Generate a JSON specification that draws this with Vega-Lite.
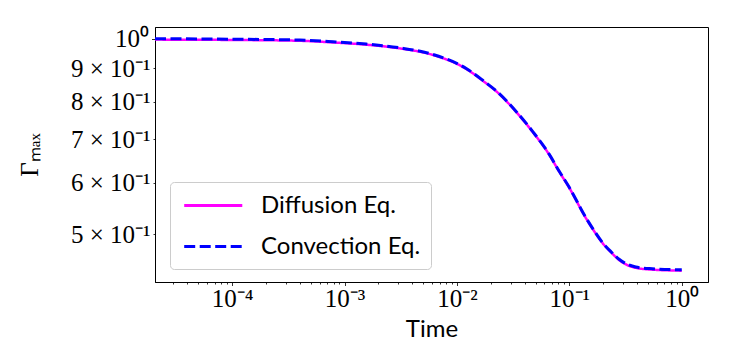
{
  "$schema": "https://vega.github.io/schema/vega-lite/v6.json",
  "width": 553,
  "height": 255,
  "autosize": {"type": "none"},
  "padding": {"left": 155, "top": 27, "right": 35, "bottom": 68},
  "background": "white",
  "config": {
    "view": {"stroke": "black", "strokeWidth": 1},
    "axis": {
      "domainColor": "black",
      "tickColor": "black",
      "labelColor": "black",
      "titleColor": "black",
      "grid": false
    },
    "legend": {
      "title": null,
      "orient": "none",
      "legendX": 15,
      "legendY": 155,
      "symbolType": "M-0.8,0H4.2",
      "symbolSize": 540,
      "symbolStrokeWidth": 3,
      "labelFont": "Lato",
      "labelFontSize": 24,
      "labelOffset": 54,
      "labelLimit": 300,
      "fillColor": "rgba(255,255,255,0.8)",
      "strokeColor": "#cccccc",
      "cornerRadius": 4,
      "padding": 10,
      "rowPadding": 15
    }
  },
  "data": {
    "values": [
      {"t": 2.06e-5, "v": 1.0, "series": "Convection Eq."},
      {"t": 9.55e-5, "v": 0.9986, "series": "Convection Eq."},
      {"t": 4.0e-4, "v": 0.9954, "series": "Convection Eq."},
      {"t": 7.89e-4, "v": 0.9894, "series": "Convection Eq."},
      {"t": 1.56e-3, "v": 0.9813, "series": "Convection Eq."},
      {"t": 3.09e-3, "v": 0.9684, "series": "Convection Eq."},
      {"t": 6.10e-3, "v": 0.946, "series": "Convection Eq."},
      {"t": 1.21e-2, "v": 0.9, "series": "Convection Eq."},
      {"t": 1.695e-2, "v": 0.8632, "series": "Convection Eq."},
      {"t": 2.38e-2, "v": 0.8233, "series": "Convection Eq."},
      {"t": 3.36e-2, "v": 0.7728, "series": "Convection Eq."},
      {"t": 4.71e-2, "v": 0.7199, "series": "Convection Eq."},
      {"t": 6.63e-2, "v": 0.6636, "series": "Convection Eq."},
      {"t": 8.13e-2, "v": 0.6249, "series": "Convection Eq."},
      {"t": 0.0998, "v": 0.5903, "series": "Convection Eq."},
      {"t": 0.14, "v": 0.5305, "series": "Convection Eq."},
      {"t": 0.1664, "v": 0.5059, "series": "Convection Eq."},
      {"t": 0.197, "v": 0.4853, "series": "Convection Eq."},
      {"t": 0.234, "v": 0.47, "series": "Convection Eq."},
      {"t": 0.277, "v": 0.4573, "series": "Convection Eq."},
      {"t": 0.39, "v": 0.4449, "series": "Convection Eq."},
      {"t": 0.548, "v": 0.4422, "series": "Convection Eq."},
      {"t": 1.0, "v": 0.4406, "series": "Convection Eq."},
      {"t": 2.06e-5, "v": 0.997, "series": "Diffusion Eq."},
      {"t": 9.55e-5, "v": 0.9958, "series": "Diffusion Eq."},
      {"t": 4.0e-4, "v": 0.9928, "series": "Diffusion Eq."},
      {"t": 7.89e-4, "v": 0.987, "series": "Diffusion Eq."},
      {"t": 1.56e-3, "v": 0.9792, "series": "Diffusion Eq."},
      {"t": 3.09e-3, "v": 0.9665, "series": "Diffusion Eq."},
      {"t": 6.10e-3, "v": 0.9443, "series": "Diffusion Eq."},
      {"t": 1.21e-2, "v": 0.8985, "series": "Diffusion Eq."},
      {"t": 1.695e-2, "v": 0.8618, "series": "Diffusion Eq."},
      {"t": 2.38e-2, "v": 0.822, "series": "Diffusion Eq."},
      {"t": 3.36e-2, "v": 0.7716, "series": "Diffusion Eq."},
      {"t": 4.71e-2, "v": 0.7188, "series": "Diffusion Eq."},
      {"t": 6.63e-2, "v": 0.6626, "series": "Diffusion Eq."},
      {"t": 8.13e-2, "v": 0.624, "series": "Diffusion Eq."},
      {"t": 0.0998, "v": 0.5894, "series": "Diffusion Eq."},
      {"t": 0.14, "v": 0.5297, "series": "Diffusion Eq."},
      {"t": 0.1664, "v": 0.5051, "series": "Diffusion Eq."},
      {"t": 0.197, "v": 0.4845, "series": "Diffusion Eq."},
      {"t": 0.234, "v": 0.4692, "series": "Diffusion Eq."},
      {"t": 0.277, "v": 0.4562, "series": "Diffusion Eq."},
      {"t": 0.39, "v": 0.4436, "series": "Diffusion Eq."},
      {"t": 0.548, "v": 0.4408, "series": "Diffusion Eq."},
      {"t": 1.0, "v": 0.4392, "series": "Diffusion Eq."}
    ]
  },
  "encoding": {
    "x": {
      "field": "t",
      "type": "quantitative",
      "scale": {"type": "log", "domain": [2.06e-5, 1.712], "nice": false},
      "axis": {
        "title": "Time",
        "titleFont": "Lato",
        "titleFontSize": 24,
        "titleFontWeight": "normal",
        "titlePadding": 6,
        "values": [2e-5, 3e-5, 4e-5, 5e-5, 6e-5, 7e-5, 8e-5, 9e-5, 1e-4, 2e-4, 3e-4, 4e-4, 5e-4, 6e-4, 7e-4, 8e-4, 9e-4, 1e-3, 2e-3, 3e-3, 4e-3, 5e-3, 6e-3, 7e-3, 8e-3, 9e-3, 1e-2, 2e-2, 3e-2, 4e-2, 5e-2, 6e-2, 7e-2, 8e-2, 9e-2, 0.1, 0.2, 0.3, 0.4, 0.5, 0.6, 0.7, 0.8, 0.9, 1],
        "labelExpr": "abs(log(datum.value)/LN10 - round(log(datum.value)/LN10)) < 1e-6 ? (round(log(datum.value)/LN10) == 0 ? '10⁰' : '10⁻' + ['', '¹', '²', '³', '⁴', '⁵'][-round(log(datum.value)/LN10)]) : ''",
        "labelFont": "Liberation Serif",
        "labelFontSize": 25,
        "labelPadding": 1,
        "labelFlush": false,
        "labelOverlap": false,
        "tickSize": {"condition": {"test": "abs(log(datum.value)/LN10 - round(log(datum.value)/LN10)) < 1e-6", "value": 3.5}, "value": 2},
        "tickWidth": 0.8
      }
    },
    "y": {
      "field": "v",
      "type": "quantitative",
      "scale": {"type": "log", "domain": [0.4219, 1.0426], "nice": false},
      "axis": {
        "title": "Γₘₐₓ",
        "titleFont": "Liberation Serif",
        "titleFontSize": 25,
        "titleFontWeight": "normal",
        "titlePadding": 28,
        "values": [0.5, 0.6, 0.7, 0.8, 0.9, 1.0],
        "labelExpr": "datum.value > 0.99 ? '10⁰' : round(datum.value*10) + ' × 10⁻¹'",
        "labelFont": "Liberation Serif",
        "labelFontSize": 25,
        "labelPadding": 3,
        "labelFlush": false,
        "labelOverlap": false,
        "tickSize": {"condition": {"test": "datum.value > 0.99", "value": 3.5}, "value": 2},
        "tickWidth": 0.8
      }
    },
    "color": {
      "field": "series",
      "type": "nominal",
      "scale": {"domain": ["Diffusion Eq.", "Convection Eq."], "range": ["#ff00ff", "#0000ff"]}
    },
    "strokeDash": {
      "field": "series",
      "type": "nominal",
      "scale": {"domain": ["Diffusion Eq.", "Convection Eq."], "range": [[1, 0], [11, 4.5]]}
    }
  },
  "layer": [
    {
      "transform": [{"filter": "datum.series == 'Diffusion Eq.'"}],
      "mark": {"type": "line", "strokeWidth": 2.5, "interpolate": "monotone"}
    },
    {
      "transform": [{"filter": "datum.series == 'Convection Eq.'"}],
      "mark": {"type": "line", "strokeWidth": 3, "interpolate": "monotone"}
    }
  ]
}
